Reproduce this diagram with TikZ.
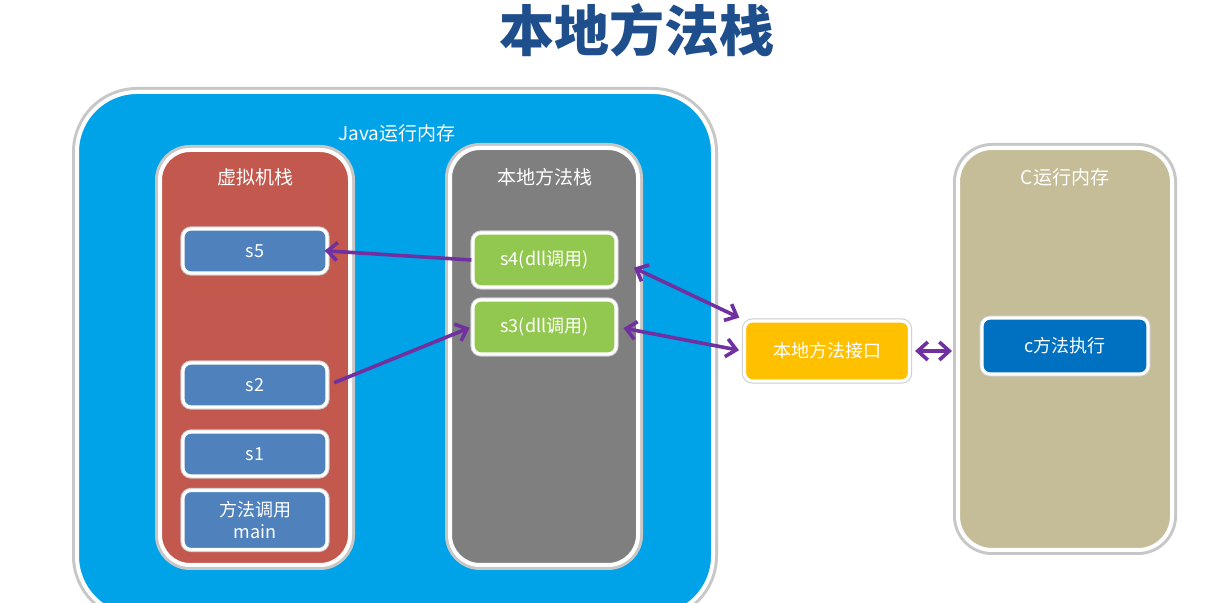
\documentclass[tikz,border=0pt]{standalone}
\usepackage{fontspec}
\setmainfont{Noto Sans CJK SC}
\usetikzlibrary{arrows.meta}

\definecolor{javablue}{RGB}{0,162,232}
\definecolor{vmred}{RGB}{195,88,78}
\definecolor{nativegray}{RGB}{127,127,127}
\definecolor{cmemtan}{RGB}{196,189,151}
\definecolor{slotblue}{RGB}{79,129,189}
\definecolor{slotgreen}{RGB}{146,200,80}
\definecolor{jniyellow}{RGB}{255,192,0}
\definecolor{cblue}{RGB}{0,112,192}
\definecolor{callpurple}{RGB}{112,48,160}
\definecolor{titleblue}{RGB}{31,78,140}

\begin{document}
\begin{tikzpicture}[x=0.5pt, y=-0.5pt,
		area/.style={draw=white, line width=2pt, preaction={draw=black!22, line width=5pt}, inner sep=0pt},
		slot/.style={draw=white, line width=1.6pt, preaction={draw=black!20, line width=2.6pt}, rounded corners=4pt, text=white, font=\fontsize{9}{11}\selectfont, minimum width=72pt, minimum height=22pt, align=center, inner sep=1pt},
		lbl/.style={text=white, font=\fontsize{9.5}{11}\selectfont},
		arr/.style={callpurple, line width=1.8pt, -{Straight Barb[length=5pt,width=9pt]}},
		darr/.style={arr, {Straight Barb[length=5pt,width=9pt]}-{Straight Barb[length=5pt,width=9pt]}}]
			\clip (0,0) rectangle (1232,603);
			\fill[white] (0,0) rectangle (1232,603);

			\node[font=\fontsize{27.5}{30}\selectfont\bfseries, text=titleblue] (title) at (637,30) {本地方法栈};

			% Java side
			\node[area, fill=javablue, rounded corners=30pt, minimum width=318pt, minimum height=262pt] (jvm) at (395,354) {};
			\node[lbl] (jvmlabel) at (397,133) {Java运行内存};

			\node[area, fill=vmred, rounded corners=15pt, minimum width=95pt, minimum height=207.5pt] (vstack) at (255,357.5) {};
			\node[lbl] (vstacklabel) at (255,177) {虚拟机栈};
			\node[area, fill=nativegray, rounded corners=15pt, minimum width=94pt, minimum height=208.5pt] (nstack) at (544,356.5) {};
			\node[lbl] (nstacklabel) at (545,177) {本地方法栈};

			\node[slot, fill=slotblue] (s5) at (255,251) {s5};
			\node[slot, fill=slotblue] (s2) at (255,385) {s2};
			\node[slot, fill=slotblue] (s1) at (255,454) {s1};
			\node[slot, fill=slotblue, minimum height=29.5pt] (smain) at (255,520) {方法调用\\main};

			\node[slot, fill=slotgreen, minimum width=71.5pt, minimum height=27pt] (s4) at (544.5,260) {s4(dll调用)};
			\node[slot, fill=slotgreen, minimum width=71.5pt, minimum height=27pt] (s3) at (544.5,327) {s3(dll调用)};

			% native interface and C side
			\node[slot, fill=jniyellow, minimum width=82.5pt, minimum height=30pt] (jni) at (827,351) {本地方法接口};

			\node[area, fill=cmemtan, rounded corners=17pt, minimum width=107pt, minimum height=201pt] (cmem) at (1065,349) {};
			\node[lbl] (cmemlabel) at (1065,177) {C运行内存};
			\node[slot, fill=cblue, minimum width=83pt, minimum height=28pt] (cexec) at (1065,346) {c方法执行};

			\draw[arr, shorten >=-2pt] (s4.west) -- (s5.east);
			\draw[arr, shorten <=3pt, shorten >=1pt] (s2.east) -- (s3.west);
			\draw[darr, shorten <=9pt, shorten >=2pt] (s4.east) -- (jni.north west);
			\draw[darr, shorten <=3pt, shorten >=2pt] (s3.east) -- (jni.west);
			\draw[darr, shorten <=2pt, shorten >=2pt] (jni.east) -- (jni.east -| cmem.west);
		\end{tikzpicture}
\end{document}
